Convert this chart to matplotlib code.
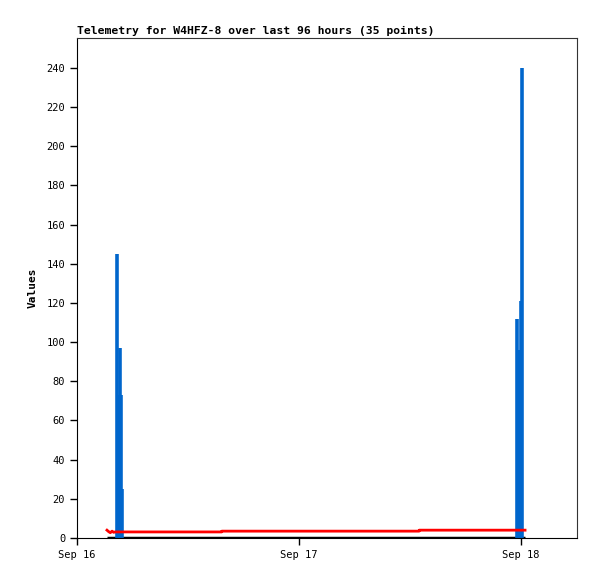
import numpy as np
import matplotlib
matplotlib.use('Agg')
import matplotlib.pyplot as plt

# time in days after Sep 16 00:00
spike_t = [0.178, 0.183, 0.187, 0.193, 0.198, 0.203, 1.984, 1.990, 1.998, 2.003]
spike_v = [145, 73, 48, 97, 73, 25, 112, 96, 121, 240]

red_t = [0.135, 0.142, 0.150, 0.158, 0.165, 0.172, 0.652, 0.652, 1.541, 1.541, 2.018]
red_v = [4.0, 3.3, 2.7, 3.5, 2.9, 3.1, 3.1, 3.5, 3.5, 4.0, 4.0]

base_t = [0.135, 2.018]
base_v = [0, 0]

xticks = [0, 1, 2]
xlabels = ['Sep 16', 'Sep 17', 'Sep 18']
yticks = list(range(0, 241, 20))

plt.rcParams['font.family'] = 'DejaVu Sans Mono'

fig = plt.figure(figsize=(5.97, 5.79), dpi=100)
ax = fig.add_axes([77/597, 41/579, 500/597, 500/579])

ax.plot(base_t, base_v, c='black', lw=2.5, solid_capstyle='butt')
ax.vlines(spike_t, 0, spike_v, colors='#0066cc', lw=2.6)
ax.plot(red_t, red_v, c='#ff0000', lw=2)

ax.set_xlim(0, 2.252)
ax.set_ylim(0, 255.3)
ax.set_xticks(xticks)
ax.set_xticklabels(xlabels, fontsize=7.5)
ax.set_yticks(yticks)
ax.tick_params(axis='y', labelsize=7.5, length=5, width=1)
ax.tick_params(axis='x', length=5, width=1)
ax.spines['top'].set_color('#333333')
ax.spines['right'].set_color('#333333')
ax.set_ylabel('Values', fontsize=8, fontweight='bold', labelpad=6)
ax.set_title('Telemetry for W4HFZ-8 over last 96 hours (35 points)',
             loc='left', fontsize=8.2, fontweight='bold', pad=3)

plt.savefig('out.png', dpi=100)
